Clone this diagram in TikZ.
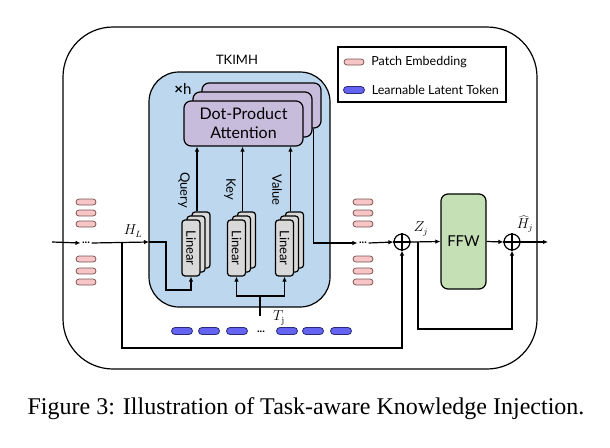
\documentclass[tikz,border=0pt]{standalone}
\usepackage{graphicx}
\usepackage{fontspec}
\setsansfont{Lato}
\newfontfamily\capfont{Liberation Serif}
\usetikzlibrary{positioning,arrows.meta}
\definecolor{tkblue}{HTML}{BDD7EE}
\definecolor{attnpurple}{HTML}{C8BCDD}
\definecolor{lingray}{HTML}{D9D9D9}
\definecolor{ffwgreen}{HTML}{C5E0B4}
\definecolor{pembpink}{HTML}{F7C5C5}
\definecolor{pembedge}{HTML}{7A5555}
\definecolor{latblue}{HTML}{6464F0}
\definecolor{latedge}{HTML}{2A2A7A}
\begin{document}
\begin{tikzpicture}[x=1pt,y=-1pt,line width=1.2pt,
  arr/.style={-{Latex[length=5pt,width=4.5pt]}},
  pemb/.style={draw=pembedge,fill=pembpink,line width=0.8pt,rounded corners=3pt,minimum width=20pt,minimum height=6pt,inner sep=0pt},
  lat/.style={draw=latedge,fill=latblue,line width=0.8pt,rounded corners=3.5pt,minimum width=21pt,minimum height=7pt,inner sep=0pt},
  attn/.style={draw,fill=attnpurple,rounded corners=7pt,minimum width=119pt,minimum height=45pt,align=center,font=\sffamily\fontsize{16}{19}\selectfont},
  lin/.style={draw,fill=lingray,rounded corners=3pt,minimum width=18pt,minimum height=56pt,inner sep=0pt,font=\sffamily\fontsize{13}{13}\selectfont},
  ffw/.style={draw,fill=ffwgreen,rounded corners=7pt,minimum width=45pt,minimum height=95pt,font=\sffamily\fontsize{15}{17}\selectfont},
  addop/.style={draw,circle,minimum size=16pt,inner sep=0pt},
  dots/.style={font=\sffamily\bfseries\fontsize{11}{11}\selectfont,inner sep=1pt},
  lbl/.style={font=\sffamily\fontsize{12.5}{14}\selectfont},
  qkv/.style={font=\sffamily\fontsize{13}{15}\selectfont,rotate=-90},
  mlbl/.style={font=\fontsize{13.5}{15}\selectfont,inner sep=0pt}]
\useasboundingbox (0,0) rectangle (610,447);
\draw [rounded corners=50pt] (63,27) rectangle (537,369);
\draw [fill=tkblue,rounded corners=30pt] (149,72) rectangle (330,307);
\node [lbl,font=\sffamily\fontsize{13}{15}\selectfont] (tkname) at (237,60) {TKIMH};
\draw (338,47) rectangle (506,102);
\node [pemb] (lg1) at (354,62) {};
\node [lbl,right=3pt of lg1] (lg1t) {Patch Embedding};
\node [lat] (lg2) at (354,90) {};
\node [lbl,right=3pt of lg2] (lg2t) {Learnable Latent Token};
\node [attn] (att3) at (261.5,105.5) {};
\node [attn] (att2) at (252.5,114.5) {};
\node [attn] (att) at (243.5,123.5) {Dot-Product\\Attention};
\node [lbl,font=\sffamily\fontsize{15}{17}\selectfont,inner sep=0pt] (nh) at (183,89) {{\bfseries ×}h};
\foreach \n/\x in {q/191,k/236.5,v/284.5} {
  \node [lin] (\n3) at (\x+10,240) {};
  \node [lin] (\n2) at (\x+5,244) {};
  \node [lin] (\n1) at (\x,248) {\rotatebox{-90}{Linear}};
  \draw [arr] ([xshift=-4pt]\n3.north) -- ([xshift=-4pt]\n3.north |- att.south);
}
\node [qkv] (qlbl) at (184,190) {Query};
\node [qkv] (klbl) at (230,189) {Key};
\node [qkv] (vlbl) at (277,190) {Value};
\foreach \y [count=\i] in {202,213,224,259,271,282} {
  \node [pemb] (pl\i) at (86,\y) {};
  \node [pemb] (pm\i) at (363,\y) {};
}
\foreach \x [count=\i] in {182,209,237,287,313,341} {
  \node [lat] (lt\i) at (\x,331) {};
}
\node [dots] (d1) at (86,243) {...};
\node [dots] (d2) at (363,243) {...};
\node [dots] (d3) at (261,332) {...};
\node [addop] (add1) at (402,242) {};
\draw (add1.north) -- (add1.south) (add1.west) -- (add1.east);
\node [ffw] (ffw) at (463.5,241.5) {FFW};
\node [addop] (add2) at (512,242) {};
\draw (add2.north) -- (add2.south) (add2.west) -- (add2.east);
\coordinate (in) at (52,242);
\coordinate (hl) at (149,242);
\coordinate (qin) at (166,290);
\coordinate (br) at (122,242);
\coordinate (bl) at (122,348);
\coordinate (zj) at (418,242);
\coordinate (sk) at (418,329);
\coordinate (out) at (548,242);
\coordinate (tj) at (260,316);
\coordinate (tjm) at (260,296);
\draw [arr] (in) -- (d1.west);
\draw [arr] (d1.east) -- (hl);
\node [mlbl] (hllbl) at (133,231) {$H_L$};
\draw [arr] (hl) -| (qin) -| (q1.south);
\draw [arr] (br) -- (bl) -| (add1.south);
\draw [arr] ([xshift=-8pt]att3.south east) |- (d2.west);
\draw [arr] (d2.east) -- (add1.west);
\draw [arr] (add1.east) -- (ffw.west);
\node [mlbl] (zjlbl) at (421,229) {$Z_j$};
\draw [arr] (zj) -- (sk) -| (add2.south);
\draw [arr] (ffw.east) -- (add2.west);
\draw [arr] (add2.east) -- (out);
\node [mlbl] (hjlbl) at (525,224) {$\widehat{H}_j$};
\draw (tj) -- (tjm);
\draw [arr] (tjm) -| (k1.south);
\draw [arr] (tjm) -| (v1.south);
\node [mlbl] (tjlbl) at (279,318) {$T_{\mathrm{j}}$};
\node [font=\capfont\fontsize{24}{28}\selectfont] (cap) at (306,409) {Figure 3: Illustration of Task-aware Knowledge Injection.};
\end{tikzpicture}
\end{document}
